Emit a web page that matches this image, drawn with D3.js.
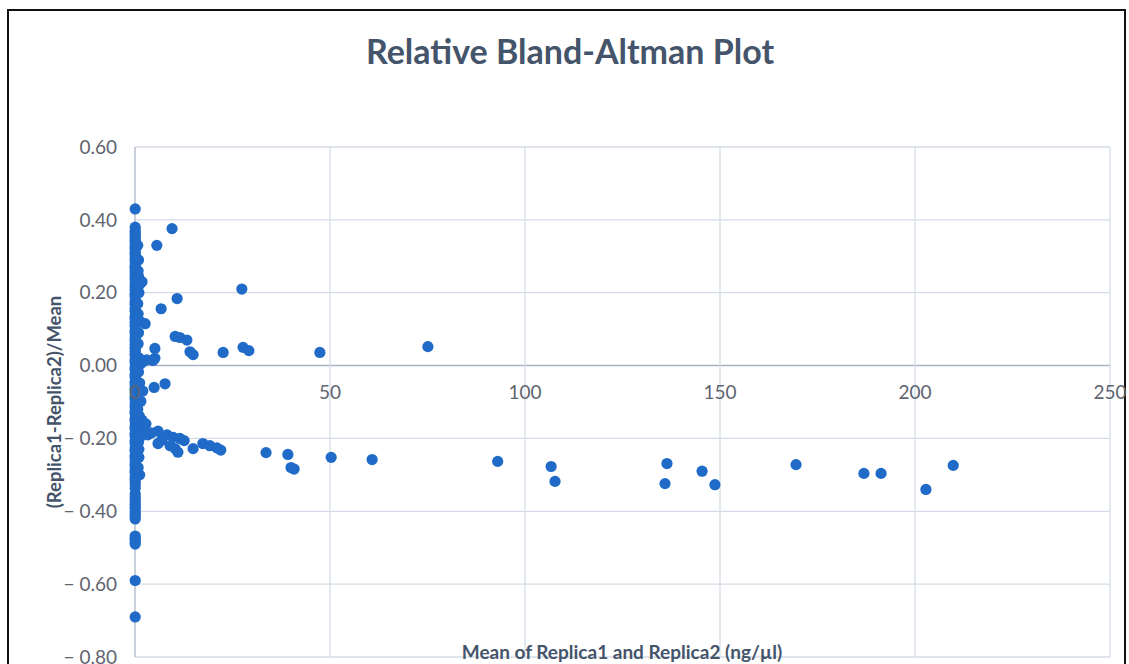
<!DOCTYPE html>
<html>
<head>
<meta charset="utf-8">
<script src="https://cdn.jsdelivr.net/npm/d3@7"></script>
<style>
  html, body { margin: 0; padding: 0; background: #fff; overflow: hidden; }
  svg { display: block; font-family: Lato, "Open Sans", sans-serif; }
</style>
</head>
<body>
<div id="chart"></div>
<script>
// values
const xTicks = [0, 50, 100, 150, 200, 250];
const yTicks = [-0.8, -0.6, -0.4, -0.2, 0, 0.2, 0.4, 0.6];

// points sitting on the x = 0 column
const columnY = [
  0.43, 0.38, 0.365, 0.352, 0.341, 0.333, 0.322, 0.315, 0.304, 0.296, 0.284, 0.275,
  0.266, 0.255, 0.247, 0.236, 0.228, 0.219, 0.207, 0.198, 0.189, 0.177, 0.168, 0.158,
  0.149, 0.137, 0.128, 0.119, 0.108, 0.097, 0.088, 0.079, 0.067, 0.058, 0.047, 0.039,
  0.028, 0.017, 0.008, -0.003, -0.012, -0.024, -0.033, -0.044, -0.053, -0.062, -0.074,
  -0.083, -0.094, -0.103, -0.115, -0.124, -0.133, -0.145, -0.154, -0.166, -0.175,
  -0.186, -0.195, -0.206, -0.215, -0.226, -0.235, -0.247, -0.256, -0.265, -0.277,
  -0.286, -0.295, -0.306, -0.318, -0.327, -0.352, -0.366, -0.381, -0.393, -0.402,
  -0.414, -0.421, -0.468, -0.479, -0.49, -0.59, -0.69,
  0.371, 0.359, 0.346, 0.327, 0.309, 0.29, 0.27, 0.26, 0.241, 0.213, 0.193, 0.172,
  0.153, 0.132, 0.113, 0.092, 0.072, 0.052, 0.033, 0.012, -0.008, -0.028, -0.048,
  -0.068, -0.088, -0.109, -0.128, -0.149, -0.17, -0.19, -0.21, -0.231, -0.251,
  -0.271, -0.291, -0.312, -0.337, -0.36, -0.374, -0.388, -0.408, -0.474, -0.485
];

// points a little off the column plus the spread-out ones
const meanX = [
  0.9, 1.1, 0.8, 1.3, 1.0, 1.4, 0.9, 1.2, 1.5, 1.1, 0.8, 1.3, 1.0, 1.2,
  0.7, 0.9, 0.8, 1.0, 0.7, 0.9, 0.8, 1.1, 0.7, 0.9, 1.0, 0.8,
  1.8, 2.6, 5.6, 9.5, 6.7, 10.8, 27.4, 10.3, 11.5, 13.3, 14.1, 14.9, 5.1, 5.1, 4.6,
  22.6, 27.7, 29.2, 47.4, 75.1, 2.2, 3.0,
  2.0, 4.9, 7.7, 1.3, 1.8, 2.0, 3.3, 5.9, 5.9, 9.8, 11.5, 12.6, 9.0, 10.3, 11.0,
  14.9, 17.4, 19.2, 21.0, 22.0, 2.8, 4.2, 6.8, 8.2,
  33.6, 39.2, 40.0, 40.8, 50.3, 60.8, 93.0, 106.7, 107.7, 136.4, 135.9, 145.4,
  148.7, 169.5, 186.9, 191.3, 202.8, 209.8
];
const relDiff = [
  0.245, 0.222, 0.142, 0.121, 0.021, 0.004, -0.018, -0.048, -0.098, -0.138, -0.168,
  -0.19, -0.252, -0.3,
  0.33, 0.29, 0.26, 0.2, 0.17, 0.09, 0.06, -0.07, -0.12, -0.21, -0.23, -0.28,
  0.23, 0.115, 0.33, 0.376, 0.156, 0.184, 0.21, 0.08, 0.077, 0.07, 0.038, 0.03, 0.047,
  0.02, 0.014, 0.036, 0.05, 0.041, 0.036, 0.052, 0.012, 0.016,
  -0.07, -0.06, -0.05, -0.197, -0.15, -0.17, -0.19, -0.18, -0.214, -0.197, -0.2,
  -0.206, -0.22, -0.228, -0.238, -0.228, -0.214, -0.22, -0.226, -0.232, -0.16, -0.185,
  -0.205, -0.19,
  -0.239, -0.244, -0.28, -0.284, -0.252, -0.258, -0.263, -0.277, -0.318, -0.269,
  -0.324, -0.29, -0.327, -0.272, -0.296, -0.296, -0.34, -0.274
];

const W = 1129, H = 664;
const points = columnY.map(v => ({ x: 0.05, y: v }))
  .concat(meanX.map((v, i) => ({ x: v, y: relDiff[i] })));

const svg = d3.select('#chart').append('svg')
  .attr('width', W)
  .attr('height', H);

const x = d3.scaleLinear().domain([0, 250]).range([135, 1110]);
const y = d3.scaleLinear().domain([-0.8, 0.6]).range([657, 147]);

// outer frame
svg.append('rect')
  .attr('x', 8).attr('y', 10)
  .attr('width', 1117).attr('height', 700)
  .attr('fill', '#fff')
  .attr('stroke', '#111')
  .attr('stroke-width', 2);

// grid
const grid = svg.append('g');
grid.selectAll('line.h')
  .data(yTicks)
  .enter()
  .append('line')
  .attr('class', 'h')
  .attr('x1', x(0)).attr('x2', x(250))
  .attr('y1', d => y(d)).attr('y2', d => y(d))
  .attr('stroke', d => d === 0 ? '#a9b3c4' : '#d6dce7')
  .attr('stroke-width', d => d === 0 ? 1.6 : 1.3);

grid.selectAll('line.v')
  .data(xTicks)
  .enter()
  .append('line')
  .attr('class', 'v')
  .attr('x1', d => x(d)).attr('x2', d => x(d))
  .attr('y1', y(0.6)).attr('y2', y(-0.8))
  .attr('stroke', d => d === 0 ? '#bcc5d4' : '#d6dce7')
  .attr('stroke-width', d => d === 0 ? 1.6 : 1.3);

// y tick labels
const fmtY = d => {
  const s = Math.abs(d).toFixed(2);
  return d < 0 ? '\u2212 ' + s : s;
};
svg.append('g').selectAll('text')
  .data(yTicks)
  .enter()
  .append('text')
  .attr('x', 117)
  .attr('y', d => y(d))
  .attr('dy', '0.35em')
  .attr('text-anchor', 'end')
  .attr('font-size', 19)
  .attr('fill', '#5f6470')
  .text(fmtY);

// points
svg.append('g').selectAll('circle')
  .data(points)
  .enter()
  .append('circle')
  .attr('cx', d => x(d.x))
  .attr('cy', d => y(d.y))
  .attr('r', 5.6)
  .attr('fill', '#1f6bc7');

// x tick labels sit under the zero line
svg.append('g').selectAll('text')
  .data(xTicks)
  .enter()
  .append('text')
  .attr('x', d => x(d))
  .attr('y', y(0) + 27)
  .attr('dy', '0.35em')
  .attr('text-anchor', 'middle')
  .attr('font-size', 19)
  .attr('fill', '#5f6470')
  .text(d => d);

// titles
svg.append('text')
  .attr('x', 570).attr('y', 52)
  .attr('dy', '0.35em')
  .attr('text-anchor', 'middle')
  .attr('font-size', 34)
  .attr('font-weight', 'bold')
  .attr('fill', '#44546a')
  .text('Relative Bland-Altman Plot');

svg.append('text')
  .attr('transform', 'translate(55,402) rotate(-90)')
  .attr('dy', '0.35em')
  .attr('text-anchor', 'middle')
  .attr('font-size', 18.5)
  .attr('font-weight', 'bold')
  .attr('fill', '#44546a')
  .text('(Replica1-Replica2)/Mean');

svg.append('text')
  .attr('x', 622).attr('y', 652)
  .attr('dy', '0.35em')
  .attr('text-anchor', 'middle')
  .attr('font-size', 19)
  .attr('font-weight', 'bold')
  .attr('fill', '#44546a')
  .text('Mean of Replica1 and Replica2 (ng/\u00b5l)');
</script>
</body>
</html>
